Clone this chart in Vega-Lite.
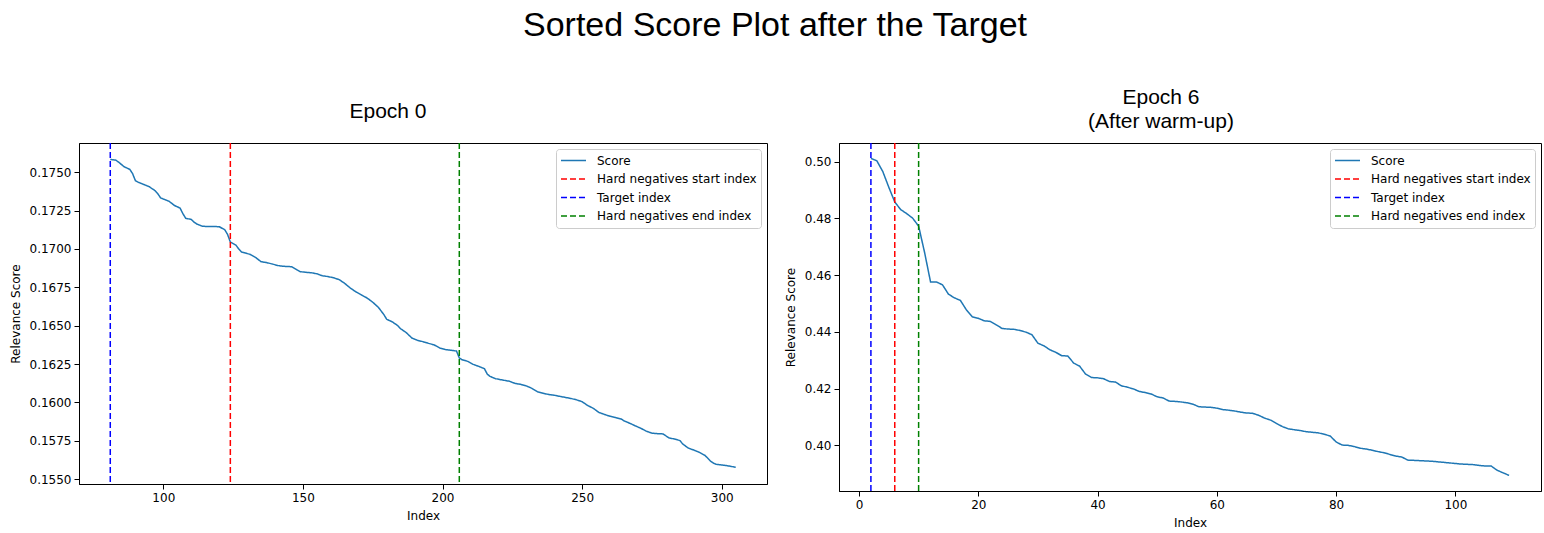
{
  "$schema": "https://vega.github.io/schema/vega-lite/v6.json",
  "padding": {"left": 8, "top": 8, "right": 4, "bottom": 4},
  "background": "white",
  "title": {"text": "Sorted Score Plot after the Target", "font": "Liberation Sans", "fontSize": 34, "fontWeight": "normal", "anchor": "middle", "color": "#000", "offset": 44},
  "config": {
    "view": {"stroke": "#000", "strokeWidth": 1},
    "axis": {"grid": false, "labelFont": "DejaVu Sans", "labelFontSize": 12, "titleFont": "DejaVu Sans", "titleFontSize": 12, "titleFontWeight": "normal", "labelColor": "#000", "titleColor": "#000", "tickColor": "#000", "domainColor": "#000", "tickSize": 5, "labelPadding": 3, "titlePadding": 7},
    "legend": {"orient": "top-right", "offset": 6, "fillColor": "white", "strokeColor": "#cccccc", "cornerRadius": 3, "padding": 4, "labelFont": "DejaVu Sans", "labelFontSize": 12, "labelColor": "#000", "symbolType": "stroke", "symbolSize": 625, "symbolStrokeWidth": 1.5, "clipHeight": 15, "rowPadding": 3.5, "labelOffset": 10, "title": null}
  },
  "datasets": {
    "epoch0": [
      {"idx": 81, "score": 0.17583}, {"idx": 83, "score": 0.17578}, {"idx": 84, "score": 0.17565}, {"idx": 86, "score": 0.17535}, {"idx": 88, "score": 0.17518}, {"idx": 89, "score": 0.1749}, {"idx": 90, "score": 0.17445}, {"idx": 91, "score": 0.17435}, {"idx": 93, "score": 0.1742}, {"idx": 95, "score": 0.17405}, {"idx": 96, "score": 0.17392}, {"idx": 97, "score": 0.1738}, {"idx": 98, "score": 0.1736}, {"idx": 99, "score": 0.17333}, {"idx": 100, "score": 0.17325}, {"idx": 102, "score": 0.17311}, {"idx": 104, "score": 0.17283}, {"idx": 106, "score": 0.17266}, {"idx": 107, "score": 0.1723}, {"idx": 108, "score": 0.172}, {"idx": 110, "score": 0.17192}, {"idx": 111, "score": 0.17175}, {"idx": 112, "score": 0.17162}, {"idx": 114, "score": 0.17148}, {"idx": 116, "score": 0.17146}, {"idx": 118, "score": 0.17146}, {"idx": 120, "score": 0.17145}, {"idx": 122, "score": 0.17125}, {"idx": 123, "score": 0.17095}, {"idx": 124, "score": 0.17045}, {"idx": 125, "score": 0.17035}, {"idx": 126, "score": 0.17025}, {"idx": 127, "score": 0.17}, {"idx": 128, "score": 0.1698}, {"idx": 130, "score": 0.1697}, {"idx": 131, "score": 0.16965}, {"idx": 133, "score": 0.16945}, {"idx": 135, "score": 0.16917}, {"idx": 137, "score": 0.16911}, {"idx": 139, "score": 0.16902}, {"idx": 141, "score": 0.16892}, {"idx": 142, "score": 0.16889}, {"idx": 144, "score": 0.16886}, {"idx": 146, "score": 0.16884}, {"idx": 148, "score": 0.16862}, {"idx": 149, "score": 0.16852}, {"idx": 151, "score": 0.16848}, {"idx": 153, "score": 0.16845}, {"idx": 155, "score": 0.16838}, {"idx": 157, "score": 0.16825}, {"idx": 159, "score": 0.1682}, {"idx": 161, "score": 0.16812}, {"idx": 163, "score": 0.168}, {"idx": 165, "score": 0.16775}, {"idx": 167, "score": 0.16745}, {"idx": 169, "score": 0.1672}, {"idx": 171, "score": 0.167}, {"idx": 173, "score": 0.1668}, {"idx": 175, "score": 0.16653}, {"idx": 177, "score": 0.1662}, {"idx": 179, "score": 0.16572}, {"idx": 180, "score": 0.16542}, {"idx": 182, "score": 0.16525}, {"idx": 184, "score": 0.165}, {"idx": 185, "score": 0.1648}, {"idx": 187, "score": 0.16455}, {"idx": 189, "score": 0.1642}, {"idx": 191, "score": 0.16405}, {"idx": 193, "score": 0.16396}, {"idx": 195, "score": 0.16385}, {"idx": 197, "score": 0.16375}, {"idx": 199, "score": 0.16355}, {"idx": 201, "score": 0.16345}, {"idx": 203, "score": 0.1634}, {"idx": 205, "score": 0.16335}, {"idx": 206, "score": 0.1629}, {"idx": 207, "score": 0.16278}, {"idx": 209, "score": 0.16268}, {"idx": 211, "score": 0.16248}, {"idx": 213, "score": 0.16235}, {"idx": 215, "score": 0.1622}, {"idx": 216, "score": 0.16185}, {"idx": 217, "score": 0.1617}, {"idx": 219, "score": 0.16155}, {"idx": 221, "score": 0.16148}, {"idx": 224, "score": 0.16138}, {"idx": 226, "score": 0.16124}, {"idx": 228, "score": 0.16118}, {"idx": 230, "score": 0.16108}, {"idx": 232, "score": 0.16092}, {"idx": 234, "score": 0.1607}, {"idx": 236, "score": 0.1606}, {"idx": 238, "score": 0.16052}, {"idx": 240, "score": 0.16047}, {"idx": 242, "score": 0.1604}, {"idx": 244, "score": 0.16033}, {"idx": 246, "score": 0.16026}, {"idx": 248, "score": 0.16017}, {"idx": 250, "score": 0.16005}, {"idx": 252, "score": 0.1598}, {"idx": 254, "score": 0.15962}, {"idx": 256, "score": 0.15935}, {"idx": 258, "score": 0.15922}, {"idx": 260, "score": 0.1591}, {"idx": 262, "score": 0.15902}, {"idx": 264, "score": 0.15892}, {"idx": 265, "score": 0.1588}, {"idx": 267, "score": 0.15865}, {"idx": 269, "score": 0.15848}, {"idx": 271, "score": 0.15832}, {"idx": 273, "score": 0.15813}, {"idx": 275, "score": 0.158}, {"idx": 277, "score": 0.15797}, {"idx": 279, "score": 0.15795}, {"idx": 281, "score": 0.1577}, {"idx": 283, "score": 0.15762}, {"idx": 285, "score": 0.15752}, {"idx": 286, "score": 0.1573}, {"idx": 288, "score": 0.15703}, {"idx": 290, "score": 0.1569}, {"idx": 292, "score": 0.15675}, {"idx": 294, "score": 0.15655}, {"idx": 296, "score": 0.15618}, {"idx": 297, "score": 0.15605}, {"idx": 298, "score": 0.15597}, {"idx": 300, "score": 0.15593}, {"idx": 302, "score": 0.15588}, {"idx": 305, "score": 0.15578}
    ],
    "lines0": [
      {"idx": 124, "series": "Hard negatives start index"},
      {"idx": 81, "series": "Target index"},
      {"idx": 206, "series": "Hard negatives end index"}
    ],
    "epoch6": [
      {"idx": 2, "score": 0.5012}, {"idx": 3, "score": 0.5003}, {"idx": 4, "score": 0.4965}, {"idx": 5, "score": 0.491}, {"idx": 6, "score": 0.4858}, {"idx": 7, "score": 0.4831}, {"idx": 8, "score": 0.4817}, {"idx": 9, "score": 0.4801}, {"idx": 10, "score": 0.4773}, {"idx": 11, "score": 0.468}, {"idx": 12, "score": 0.4576}, {"idx": 13, "score": 0.4576}, {"idx": 14, "score": 0.4566}, {"idx": 15, "score": 0.4533}, {"idx": 16, "score": 0.452}, {"idx": 17, "score": 0.4511}, {"idx": 18, "score": 0.4478}, {"idx": 19, "score": 0.4453}, {"idx": 20, "score": 0.4448}, {"idx": 21, "score": 0.4439}, {"idx": 22, "score": 0.4437}, {"idx": 23, "score": 0.4425}, {"idx": 24, "score": 0.4412}, {"idx": 25, "score": 0.441}, {"idx": 26, "score": 0.4409}, {"idx": 27, "score": 0.4405}, {"idx": 28, "score": 0.4399}, {"idx": 29, "score": 0.439}, {"idx": 30, "score": 0.436}, {"idx": 31, "score": 0.4351}, {"idx": 32, "score": 0.4337}, {"idx": 33, "score": 0.4328}, {"idx": 34, "score": 0.4316}, {"idx": 35, "score": 0.4315}, {"idx": 36, "score": 0.429}, {"idx": 37, "score": 0.4279}, {"idx": 38, "score": 0.4251}, {"idx": 39, "score": 0.4239}, {"idx": 40, "score": 0.4238}, {"idx": 41, "score": 0.4235}, {"idx": 42, "score": 0.4225}, {"idx": 43, "score": 0.4223}, {"idx": 44, "score": 0.421}, {"idx": 45, "score": 0.4205}, {"idx": 46, "score": 0.4199}, {"idx": 47, "score": 0.419}, {"idx": 48, "score": 0.4186}, {"idx": 49, "score": 0.4181}, {"idx": 50, "score": 0.4171}, {"idx": 51, "score": 0.4167}, {"idx": 52, "score": 0.4156}, {"idx": 53, "score": 0.4155}, {"idx": 54, "score": 0.4153}, {"idx": 55, "score": 0.415}, {"idx": 56, "score": 0.4145}, {"idx": 57, "score": 0.4136}, {"idx": 58, "score": 0.4135}, {"idx": 59, "score": 0.4134}, {"idx": 60, "score": 0.4131}, {"idx": 61, "score": 0.4126}, {"idx": 62, "score": 0.4124}, {"idx": 63, "score": 0.4121}, {"idx": 64, "score": 0.4117}, {"idx": 65, "score": 0.4114}, {"idx": 66, "score": 0.4113}, {"idx": 67, "score": 0.4106}, {"idx": 68, "score": 0.4096}, {"idx": 69, "score": 0.4089}, {"idx": 70, "score": 0.4077}, {"idx": 71, "score": 0.4066}, {"idx": 72, "score": 0.4058}, {"idx": 73, "score": 0.4055}, {"idx": 74, "score": 0.4052}, {"idx": 75, "score": 0.4048}, {"idx": 76, "score": 0.4046}, {"idx": 77, "score": 0.4044}, {"idx": 78, "score": 0.4039}, {"idx": 79, "score": 0.4033}, {"idx": 80, "score": 0.4012}, {"idx": 81, "score": 0.4001}, {"idx": 82, "score": 0.4}, {"idx": 83, "score": 0.3996}, {"idx": 84, "score": 0.399}, {"idx": 85, "score": 0.3987}, {"idx": 86, "score": 0.3983}, {"idx": 87, "score": 0.3978}, {"idx": 88, "score": 0.3974}, {"idx": 89, "score": 0.3968}, {"idx": 90, "score": 0.3962}, {"idx": 91, "score": 0.3959}, {"idx": 92, "score": 0.3948}, {"idx": 93, "score": 0.3947}, {"idx": 94, "score": 0.3946}, {"idx": 95, "score": 0.3945}, {"idx": 96, "score": 0.3944}, {"idx": 97, "score": 0.3942}, {"idx": 98, "score": 0.394}, {"idx": 99, "score": 0.3938}, {"idx": 100, "score": 0.3936}, {"idx": 101, "score": 0.3934}, {"idx": 102, "score": 0.3933}, {"idx": 103, "score": 0.3932}, {"idx": 104, "score": 0.3929}, {"idx": 105, "score": 0.3927}, {"idx": 106, "score": 0.3927}, {"idx": 107, "score": 0.3912}, {"idx": 108, "score": 0.3903}, {"idx": 109, "score": 0.3894}
    ],
    "lines6": [
      {"idx": 6, "series": "Hard negatives start index"},
      {"idx": 2, "series": "Target index"},
      {"idx": 10, "series": "Hard negatives end index"}
    ]
  },
  "hconcat": [
    {
      "width": 688,
      "height": 341,
      "title": {"text": "Epoch 0", "font": "Liberation Sans", "fontSize": 21, "fontWeight": "normal", "color": "#000", "dx": -35, "offset": 20},
      "layer": [
        {
          "data": {"name": "epoch0"},
          "mark": {"type": "line", "strokeWidth": 1.5, "color": "#1f77b4"},
          "encoding": {
            "x": {"field": "idx", "type": "quantitative", "scale": {"domain": [69.8, 316.2], "nice": false, "zero": false}, "axis": {"values": [100, 150, 200, 250, 300], "title": "Index"}},
            "y": {"field": "score", "type": "quantitative", "scale": {"domain": [0.15469, 0.1769], "nice": false, "zero": false}, "axis": {"values": [0.155, 0.1575, 0.16, 0.1625, 0.165, 0.1675, 0.17, 0.1725, 0.175], "format": ".4f", "title": "Relevance Score"}},
            "color": {"datum": "Score", "type": "nominal", "scale": {"domain": ["Score", "Hard negatives start index", "Target index", "Hard negatives end index"], "range": ["#1f77b4", "#ff0000", "#0000ff", "#008000"]}},
            "strokeDash": {"datum": "Score", "type": "nominal", "scale": {"domain": ["Score", "Hard negatives start index", "Target index", "Hard negatives end index"], "range": [[1, 0], [6, 3], [6, 3], [6, 3]]}}
          }
        },
        {
          "data": {"name": "lines0"},
          "mark": {"type": "rule", "strokeWidth": 1.5},
          "encoding": {
            "x": {"field": "idx", "type": "quantitative"},
            "color": {"field": "series", "type": "nominal"},
            "strokeDash": {"field": "series", "type": "nominal"}
          }
        }
      ]
    },
    {
      "width": 702,
      "height": 348,
      "title": {"text": ["Epoch 6", "(After warm-up)"], "font": "Liberation Sans", "fontSize": 21, "fontWeight": "normal", "color": "#000", "dx": -29, "offset": 10, "lineHeight": 24},
      "layer": [
        {
          "data": {"name": "epoch6"},
          "mark": {"type": "line", "strokeWidth": 1.5, "color": "#1f77b4"},
          "encoding": {
            "x": {"field": "idx", "type": "quantitative", "scale": {"domain": [-3.35, 114.35], "nice": false, "zero": false}, "axis": {"values": [0, 20, 40, 60, 80, 100], "title": "Index"}},
            "y": {"field": "score", "type": "quantitative", "scale": {"domain": [0.3839, 0.5066], "nice": false, "zero": false}, "axis": {"values": [0.4, 0.42, 0.44, 0.46, 0.48, 0.5], "format": ".2f", "title": "Relevance Score"}},
            "color": {"datum": "Score", "type": "nominal", "scale": {"domain": ["Score", "Hard negatives start index", "Target index", "Hard negatives end index"], "range": ["#1f77b4", "#ff0000", "#0000ff", "#008000"]}},
            "strokeDash": {"datum": "Score", "type": "nominal", "scale": {"domain": ["Score", "Hard negatives start index", "Target index", "Hard negatives end index"], "range": [[1, 0], [6, 3], [6, 3], [6, 3]]}}
          }
        },
        {
          "data": {"name": "lines6"},
          "mark": {"type": "rule", "strokeWidth": 1.5},
          "encoding": {
            "x": {"field": "idx", "type": "quantitative"},
            "color": {"field": "series", "type": "nominal"},
            "strokeDash": {"field": "series", "type": "nominal"}
          }
        }
      ]
    }
  ],
  "bounds": "flush",
  "spacing": 72,
  "resolve": {"scale": {"color": "independent", "strokeDash": "independent"}, "legend": {"color": "independent", "strokeDash": "independent"}}
}
